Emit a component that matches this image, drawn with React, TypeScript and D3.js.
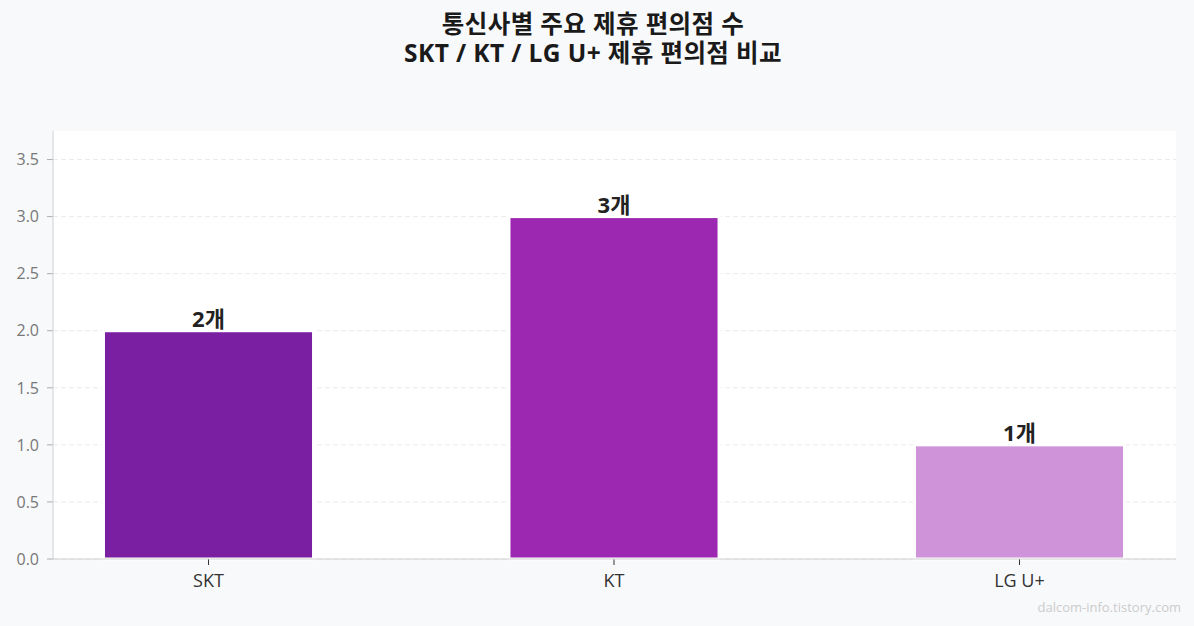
import React from "react";
import * as d3 from "d3";

const categories = ["SKT", "KT", "LG U+"];
const values = [2, 3, 1];
const valueLabels = ["2개", "3개", "1개"];
const colors = ["#7B1FA2", "#9C27B0", "#CE93D8"];
const yTicks = [0, 0.5, 1, 1.5, 2, 2.5, 3, 3.5];
const titleLines = ["통신사별 주요 제휴 편의점 수", "SKT / KT / LG U+ 제휴 편의점 비교"];

const W = 1194, H = 626;
const M = { left: 53, right: 1176, top: 131, bottom: 559 };
const FONT = "'Open Sans', 'Noto Sans CJK KR', sans-serif";

export default function App() {
  const x = d3.scaleLinear().domain([0, categories.length - 1]).range([208.5, 1019.5]);
  const y = d3.scaleLinear().domain([0, 3.75]).range([M.bottom, M.top]);
  const bw = (x(1) - x(0)) * 0.518;
  return (
    <svg width={W} height={H} style={{ position: "absolute", left: 0, top: 0, fontFamily: FONT }}>
      <rect width={W} height={H} fill="#f8f9fb" />
      <rect x={M.left} y={M.top} width={M.right - M.left} height={M.bottom - M.top} fill="#ffffff" />
      {yTicks.map((t) => (
        <g key={t}>
          <line x1={M.left} x2={M.right} y1={y(t)} y2={y(t)} stroke="#e6e6e6" strokeDasharray="5,3" strokeWidth={0.8} />
          <line x1={M.left - 6} x2={M.left} y1={y(t)} y2={y(t)} stroke="#999" strokeWidth={0.8} />
          <text x={M.left - 14} y={y(t)} dy="0.36em" textAnchor="end" fontSize={16} fill="#777">
            {t.toFixed(1)}
          </text>
        </g>
      ))}
      {categories.map((c, i) => (
        <g key={c}>
          <rect x={x(i) - bw / 2} y={y(values[i])} width={bw} height={y(0) - y(values[i])} fill={colors[i]} stroke="#ffffff" strokeWidth={3} />
          <text x={x(i)} y={y(values[i]) - 4} textAnchor="middle" fontSize={22} fontWeight="bold" fill="#222">
            {valueLabels[i]}
          </text>
          <line x1={x(i)} x2={x(i)} y1={M.bottom} y2={M.bottom + 6} stroke="#333" strokeWidth={1} />
          <text x={x(i)} y={587} textAnchor="middle" fontSize={18} fill="#333">
            {c}
          </text>
        </g>
      ))}
      <line x1={M.left} x2={M.left} y1={M.top} y2={M.bottom} stroke="#d0d0d0" strokeWidth={1} />
      <line x1={M.left} x2={M.right} y1={M.bottom} y2={M.bottom} stroke="#d0d0d0" strokeWidth={1} />
      <text textAnchor="middle" fontSize={24.5} fontWeight="bold" letterSpacing={0.4} fill="#1a1a1a">
        {titleLines.map((t, i) => (
          <tspan key={i} x={593} y={32.5 + i * 29.5}>
            {t}
          </tspan>
        ))}
      </text>
      <text x={1181} y={612} textAnchor="end" fontSize={13} fill="#cccccc">dalcom-info.tistory.com</text>
    </svg>
  );
}
